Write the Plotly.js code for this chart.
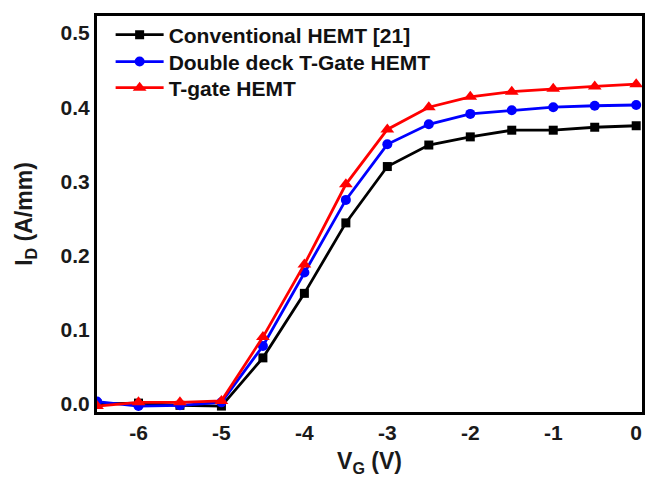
<!DOCTYPE html>
<html><head><meta charset="utf-8">
<script src="https://cdn.plot.ly/plotly-3.0.1.min.js"></script>
<style>html,body{margin:0;padding:0;background:#fff}#chart{width:647px;height:478px}</style>
</head><body><div id="chart"></div>
<script>
const vg = [-6.5, -6, -5.5, -5, -4.5, -4, -3.5, -3, -2.5, -2, -1.5, -1, -0.5, 0];
const conventional = [0.000, 0.001, -0.002, -0.003, 0.062, 0.149, 0.244, 0.320, 0.349, 0.360, 0.369, 0.369, 0.373, 0.375];
const doubleDeck = [0.003, -0.003, -0.002, 0.002, 0.078, 0.177, 0.275, 0.350, 0.377, 0.391, 0.396, 0.400, 0.402, 0.403];
const tGate = [-0.003, 0.002, 0.002, 0.004, 0.090, 0.188, 0.296, 0.370, 0.400, 0.414, 0.421, 0.425, 0.428, 0.431];
const names = ["Conventional HEMT [21]", "Double deck T-Gate HEMT", "T-gate HEMT"];
const xTicks = [-6, -5, -4, -3, -2, -1, 0];
const yTicks = [0, 0.1, 0.2, 0.3, 0.4, 0.5];
const yTickText = ["0.0", "0.1", "0.2", "0.3", "0.4", "0.5"];

const font = "Liberation Sans, Arial, sans-serif";
const traces = [
  {x: vg, y: conventional, name: names[0], mode: "lines+markers", legend: "legend",
   line: {color: "#000000", width: 2.8}, marker: {symbol: "square", size: 9, color: "#000000"}},
  {x: vg, y: doubleDeck, name: names[1], mode: "lines+markers", legend: "legend2",
   line: {color: "#0000ff", width: 2.8}, marker: {symbol: "circle", size: 10, color: "#0000ff"}},
  {x: vg, y: tGate, name: names[2], mode: "lines+markers", legend: "legend3",
   line: {color: "#ff0000", width: 2.8}, marker: {symbol: "triangle-up", size: 12, color: "#ff0000"}}
];
function leg(y) {
  return {x: 0.025, y: y, xanchor: "left", yanchor: "middle", bgcolor: "rgba(0,0,0,0)",
    font: {family: font, size: 21, color: "#111", weight: "bold"}, itemwidth: 48};
}
const layout = {
  width: 647, height: 478,
  margin: {l: 97, r: 5, t: 16, b: 66},
  paper_bgcolor: "#fff", plot_bgcolor: "#fff",
  font: {family: font, color: "#1a1a1a", size: 20},
  showlegend: true,
  legend: leg(0.952), legend2: leg(0.884), legend3: leg(0.818),
  xaxis: {range: [-6.5, 0.07], tickvals: xTicks, ticktext: xTicks.map(String), showgrid: false, zeroline: false,
    showline: true, mirror: true, linecolor: "#000", linewidth: 3, ticks: "",
    tickfont: {family: font, size: 21, color: "#1a1a1a", weight: "bold"},
    title: {text: "V<sub>G</sub> (V)", font: {family: font, size: 23, color: "#1a1a1a", weight: "bold"}, standoff: 10}},
  yaxis: {range: [-0.011, 0.523], tickvals: yTicks, ticktext: yTickText, showgrid: false, zeroline: false,
    showline: true, mirror: true, linecolor: "#000", linewidth: 3, ticks: "",
    tickfont: {family: font, size: 21, color: "#1a1a1a", weight: "bold"},
    title: {text: "I<sub>D</sub> (A/mm)", font: {family: font, size: 23, color: "#1a1a1a", weight: "bold"}, standoff: 22}}
};
Plotly.newPlot("chart", traces, layout, {displayModeBar: false, staticPlot: true});
</script></body></html>
